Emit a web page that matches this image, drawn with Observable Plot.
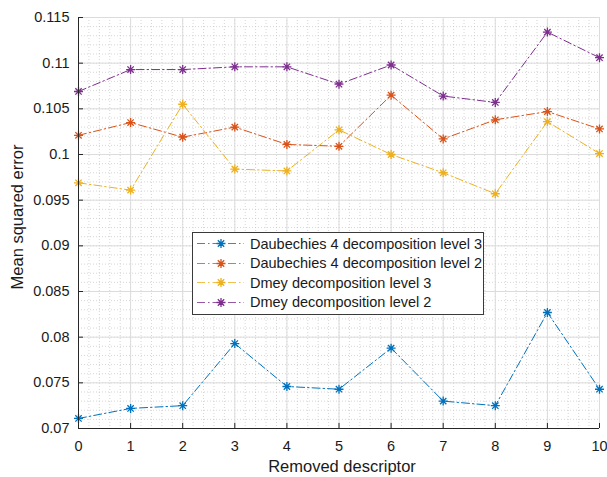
<!DOCTYPE html>
<html>
<head>
<meta charset="utf-8">
<script src="https://cdn.jsdelivr.net/npm/d3@7"></script>
<script src="https://cdn.jsdelivr.net/npm/@observablehq/plot@0.6"></script>
<style>
  body { margin: 0; background: #fff; font-family: "Liberation Sans", Arial, Helvetica, sans-serif; }
  #wrap { position: relative; width: 607px; height: 477px; }
  #legend { position: absolute; left: 192px; top: 232px; width: 290px; height: 80px; border: 1px solid #3a3a3a; background: #fff; box-sizing: content-box; padding-top: 1px; }
  .row { display: flex; align-items: center; height: 19.5px; }
  .row span { font-size: 14.5px; color: #1a1a1a; margin-left: 5px; white-space: nowrap; }
  .atitle { position: absolute; font-size: 16.5px; color: #1a1a1a; white-space: nowrap; line-height: 1; }
  #xtitle { left: 342px; top: 458px; transform: translateX(-50%); }
  #ytitle { left: 17px; top: 217px; transform: translate(-50%, -50%) rotate(-90deg); }
</style>
</head>
<body>
<div id="wrap"></div>
<script>
const descriptors = [0, 1, 2, 3, 4, 5, 6, 7, 8, 9, 10];
const seriesNames = [
  "Daubechies 4 decomposition level 3",
  "Daubechies 4 decomposition level 2",
  "Dmey decomposition level 3",
  "Dmey decomposition level 2"
];
const seriesColors = ["#0072BD", "#D95319", "#EDB120", "#7E2F8E"];
const db4Level3 = [0.0711, 0.0722, 0.0725, 0.0793, 0.0746, 0.0743, 0.0788, 0.0730, 0.0725, 0.0827, 0.0743];
const db4Level2 = [0.1021, 0.1035, 0.1019, 0.1030, 0.1011, 0.1009, 0.1065, 0.1017, 0.1038, 0.1047, 0.1028];
const dmeyLevel3 = [0.0969, 0.0961, 0.1055, 0.0984, 0.0982, 0.1027, 0.1000, 0.0980, 0.0957, 0.1036, 0.1001];
const dmeyLevel2 = [0.1069, 0.1093, 0.1093, 0.1096, 0.1096, 0.1077, 0.1098, 0.1064, 0.1057, 0.1134, 0.1106];
const xTicks = [0, 1, 2, 3, 4, 5, 6, 7, 8, 9, 10];
const yTicks = [0.07, 0.075, 0.08, 0.085, 0.09, 0.095, 0.1, 0.105, 0.11, 0.115];
const yTickLabels = ["0.07", "0.075", "0.08", "0.085", "0.09", "0.095", "0.1", "0.105", "0.11", "0.115"];
const xTitle = "Removed descriptor";
const yTitle = "Mean squared error";

const allSeries = [db4Level3, db4Level2, dmeyLevel3, dmeyLevel2];
const data = [];
allSeries.forEach((vals, si) => vals.forEach((v, i) => data.push({x: descriptors[i], y: v, s: seriesNames[si]})));

const xMinor = d3.range(0, 10.0001, 0.2);
const yMinor = d3.range(70, 115.5, 1).map(v => v / 1000);

const star = {
  draw(ctx, size) {
    const r = Math.sqrt(size / Math.PI);
    const d = r * Math.SQRT1_2;
    ctx.moveTo(-r, 0); ctx.lineTo(r, 0);
    ctx.moveTo(0, -r); ctx.lineTo(0, r);
    ctx.moveTo(-d, -d); ctx.lineTo(d, d);
    ctx.moveTo(-d, d); ctx.lineTo(d, -d);
  }
};

const dash = "8,3,1.5,3";
const axisColor = "#262626";

const chart = Plot.plot({
  width: 607,
  height: 477,
  marginLeft: 78,
  marginRight: 8,
  marginTop: 17,
  marginBottom: 49,
  style: {fontFamily: "'Liberation Sans', Arial, sans-serif", fontSize: "14.5px", color: "#1a1a1a", background: "#fff"},
  x: {domain: [0, 10]},
  y: {domain: [0.07, 0.115]},
  color: {domain: seriesNames, range: seriesColors},
  marks: [
    Plot.ruleX(xMinor, {stroke: "#c4c4c4", strokeDasharray: "1,2", strokeWidth: 0.7}),
    Plot.ruleY(yMinor, {stroke: "#c4c4c4", strokeDasharray: "1,2", strokeWidth: 0.7}),
    Plot.ruleX(xTicks, {stroke: "#dcdcdc", strokeWidth: 1}),
    Plot.ruleY(yTicks, {stroke: "#dcdcdc", strokeWidth: 1}),
    Plot.line(data, {x: "x", y: "y", z: "s", stroke: "s", strokeWidth: 1, strokeDasharray: dash}),
    Plot.dot(data, {x: "x", y: "y", stroke: "s", fill: "none", symbol: star, r: 4.5, strokeWidth: 1.3}),
    Plot.ruleX([0], {stroke: axisColor, strokeWidth: 1}),
    Plot.ruleY([0.07], {stroke: axisColor, strokeWidth: 1}),
    Plot.axisX({ticks: xTicks, tickSize: -5, tickPadding: 17, stroke: axisColor, fill: "#1a1a1a", label: null, fontSize: 14.5}),
    Plot.axisY({ticks: yTicks, tickFormat: (d, i) => yTickLabels[i], tickSize: -5, tickPadding: 14, stroke: axisColor, fill: "#1a1a1a", label: null, fontSize: 14.5})
  ]
});

const wrap = document.getElementById("wrap");
wrap.appendChild(chart);

const xt = document.createElement("div");
xt.id = "xtitle"; xt.className = "atitle"; xt.textContent = xTitle;
wrap.appendChild(xt);
const yt = document.createElement("div");
yt.id = "ytitle"; yt.className = "atitle"; yt.textContent = yTitle;
wrap.appendChild(yt);

// legend
const legend = document.createElement("div");
legend.id = "legend";
seriesNames.forEach((name, i) => {
  const row = document.createElement("div");
  row.className = "row";
  const ns = "http://www.w3.org/2000/svg";
  const svg = document.createElementNS(ns, "svg");
  svg.setAttribute("width", 52);
  svg.setAttribute("height", 19);
  const line = document.createElementNS(ns, "line");
  line.setAttribute("x1", 4); line.setAttribute("x2", 51);
  line.setAttribute("y1", 9.5); line.setAttribute("y2", 9.5);
  line.setAttribute("stroke", seriesColors[i]);
  line.setAttribute("stroke-width", 1);
  line.setAttribute("stroke-dasharray", dash);
  line.setAttribute("opacity", 0.8);
  svg.appendChild(line);
  const p = d3.path();
  star.draw(p, Math.PI * 4.5 * 4.5);
  const path = document.createElementNS(ns, "path");
  path.setAttribute("d", p.toString());
  path.setAttribute("transform", "translate(28,9.5)");
  path.setAttribute("stroke", seriesColors[i]);
  path.setAttribute("stroke-width", 1.3);
  path.setAttribute("fill", "none");
  svg.appendChild(path);
  row.appendChild(svg);
  const t = document.createElement("span");
  t.textContent = name;
  row.appendChild(t);
  legend.appendChild(row);
});
wrap.appendChild(legend);
</script>
</body>
</html>
